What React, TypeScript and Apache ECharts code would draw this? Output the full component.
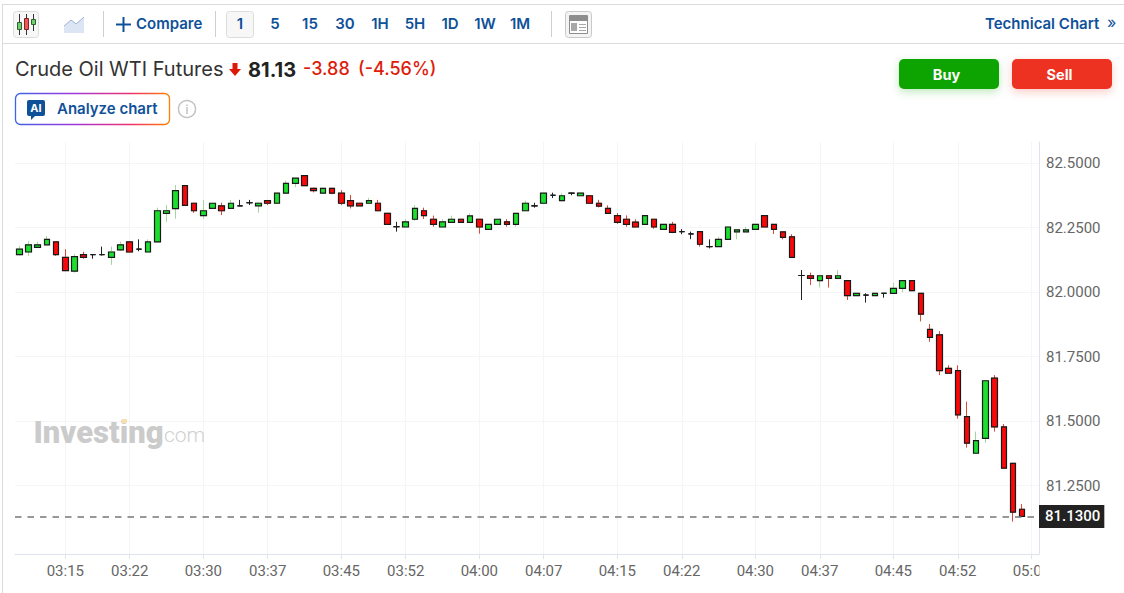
import React, { useEffect, useRef } from "react";
import * as echarts from "echarts";

const times = [
  "03:10","03:11","03:12","03:13","03:14","03:15","03:16","03:17","03:18","03:19",
  "03:20","03:21","03:22","03:23","03:24","03:25","03:26","03:27","03:28","03:29",
  "03:30","03:31","03:32","03:33","03:34","03:35","03:36","03:37","03:38","03:39",
  "03:40","03:41","03:42","03:43","03:44","03:45","03:46","03:47","03:48","03:49",
  "03:50","03:51","03:52","03:53","03:54","03:55","03:56","03:57","03:58","03:59",
  "04:00","04:01","04:02","04:03","04:04","04:05","04:06","04:07","04:08","04:09",
  "04:10","04:11","04:12","04:13","04:14","04:15","04:16","04:17","04:18","04:19",
  "04:20","04:21","04:22","04:23","04:24","04:25","04:26","04:27","04:28","04:29",
  "04:30","04:31","04:32","04:33","04:34","04:35","04:36","04:37","04:38","04:39",
  "04:40","04:41","04:42","04:43","04:44","04:45","04:46","04:47","04:48","04:49",
  "04:50","04:51","04:52","04:53","04:54","04:55","04:56","04:57","04:58","04:59",
];
const opens = [
  82.145,82.155,82.173,82.183,82.194,82.134,82.081,82.145,82.145,82.145,
  82.134,82.163,82.194,82.166,82.155,82.194,82.305,82.323,82.412,82.344,
  82.296,82.324,82.334,82.324,82.334,82.346,82.334,82.354,82.344,82.383,
  82.421,82.451,82.402,82.383,82.402,82.383,82.354,82.344,82.344,82.344,
  82.305,82.253,82.252,82.282,82.315,82.282,82.252,82.270,82.282,82.270,
  82.282,82.243,82.262,82.272,82.262,82.315,82.334,82.344,82.375,82.354,
  82.383,82.373,82.373,82.344,82.324,82.296,82.282,82.271,82.262,82.282,
  82.243,82.262,82.234,82.225,82.234,82.176,82.176,82.204,82.233,82.233,
  82.243,82.296,82.262,82.233,82.214,82.064,82.063,82.044,82.063,82.053,
  82.044,81.986,81.988,81.986,81.995,81.995,82.014,82.044,81.995,81.855,
  81.834,81.704,81.695,81.517,81.375,81.433,81.666,81.477,81.336,81.158,
];
const closes = [
  82.166,82.183,82.183,82.204,82.145,82.083,82.137,82.134,82.145,82.145,
  82.155,82.183,82.155,82.166,82.194,82.315,82.315,82.393,82.336,82.315,
  82.315,82.344,82.315,82.344,82.334,82.346,82.344,82.344,82.383,82.421,
  82.441,82.412,82.393,82.402,82.383,82.344,82.334,82.334,82.354,82.315,
  82.262,82.253,82.272,82.324,82.296,82.262,82.272,82.282,82.270,82.295,
  82.252,82.262,82.282,82.262,82.305,82.344,82.334,82.383,82.375,82.373,
  82.383,82.383,82.344,82.333,82.305,82.270,82.262,82.252,82.296,82.252,
  82.262,82.231,82.234,82.225,82.185,82.176,82.204,82.252,82.241,82.241,
  82.262,82.252,82.243,82.212,82.134,82.064,82.053,82.063,82.053,82.063,
  81.986,81.995,81.988,81.995,81.995,82.014,82.044,82.005,81.914,81.824,
  81.695,81.685,81.524,81.414,81.424,81.656,81.477,81.317,81.147,81.130,
];
const lows = [
  82.141,82.140,82.172,82.183,82.140,82.083,82.075,82.129,82.129,82.141,
  82.105,82.159,82.155,82.158,82.155,82.194,82.272,82.284,82.336,82.307,
  82.284,82.324,82.298,82.324,82.333,82.337,82.307,82.337,82.344,82.383,
  82.406,82.412,82.386,82.383,82.379,82.337,82.324,82.334,82.344,82.315,
  82.262,82.234,82.252,82.275,82.283,82.253,82.252,82.270,82.270,82.270,
  82.226,82.243,82.262,82.253,82.252,82.315,82.327,82.344,82.364,82.354,
  82.375,82.373,82.344,82.328,82.305,82.264,82.253,82.252,82.262,82.245,
  82.243,82.228,82.224,82.205,82.176,82.169,82.176,82.204,82.204,82.233,
  82.243,82.252,82.225,82.204,82.132,81.969,82.027,82.018,82.017,82.053,
  81.969,81.986,81.959,81.986,81.978,81.995,81.999,82.005,81.886,81.807,
  81.678,81.685,81.509,81.397,81.375,81.416,81.459,81.317,81.110,81.130,
];
const highs = [
  82.178,82.197,82.195,82.217,82.194,82.166,82.147,82.156,82.145,82.176,
  82.176,82.195,82.195,82.204,82.204,82.327,82.337,82.415,82.415,82.344,
  82.357,82.344,82.346,82.357,82.357,82.357,82.346,82.357,82.383,82.431,
  82.441,82.451,82.404,82.402,82.402,82.395,82.376,82.344,82.365,82.357,
  82.305,82.272,82.282,82.337,82.327,82.296,82.282,82.296,82.282,82.305,
  82.282,82.262,82.283,82.282,82.305,82.354,82.346,82.383,82.385,82.383,
  82.385,82.385,82.373,82.357,82.336,82.306,82.297,82.282,82.296,82.282,
  82.262,82.272,82.244,82.234,82.234,82.204,82.214,82.252,82.241,82.252,
  82.262,82.296,82.262,82.233,82.224,82.085,82.075,82.063,82.063,82.085,
  82.044,81.995,81.995,81.995,81.995,82.036,82.044,82.044,81.995,81.876,
  81.848,81.716,81.716,81.575,81.459,81.656,81.678,81.488,81.336,81.178,
];
const xTickLabels = ["03:15","03:22","03:30","03:37","03:45","03:52","04:00","04:07","04:15","04:22","04:30","04:37","04:45","04:52","05:00"];
const yTickValues = [81.25, 81.5, 81.75, 82, 82.25, 82.5];
const intervals = ["1","5","15","30","1H","5H","1D","1W","1M"];
const lastPrice = 81.13;

const toMinutes = (t: string) => {
  const [h, m] = t.split(":").map(Number);
  return h * 60 + m;
};
const toLabel = (v: number) => {
  const h = Math.floor(v / 60);
  const m = Math.round(v - h * 60);
  return `${String(h).padStart(2, "0")}:${String(m).padStart(2, "0")}`;
};

const UI = "Inter, 'Noto Sans', sans-serif";
const BLUE = "#0f5199";
const LINE = "#dcdcdc";

const txt = (text: string, x: number, y: number, size: number, weight: any, fill: string, align = "left", z = 10, family = UI) => ({
  type: "text",
  z,
  x,
  y,
  style: { text, fontSize: size, fontWeight: weight, fontFamily: family, fill, align, verticalAlign: "middle" },
});
const rect = (x: number, y: number, w: number, h: number, fill: string, stroke: string | null = null, r = 0, extra: any = {}, z = 5) => ({
  type: "rect",
  z,
  shape: { x, y, width: w, height: h, r },
  style: { fill, stroke: stroke ?? undefined, lineWidth: 1, ...extra },
});
const seg = (x1: number, y1: number, x2: number, y2: number, stroke: string, lineWidth = 1, z = 6) => ({
  type: "line",
  z,
  shape: { x1, y1, x2, y2 },
  style: { stroke, lineWidth },
});

const intervalX = [240, 275, 310, 345, 380, 415, 450, 485, 520];

function chrome(): any[] {
  const els: any[] = [
    // frame
    seg(2.5, 4, 2.5, 593, LINE),
    seg(2, 4.5, 1124, 4.5, LINE),
    seg(2, 43.5, 1124, 43.5, LINE),
    // candlestick button
    rect(13.5, 11.5, 25, 26, "#f7f7f8", LINE, 3),
    seg(19.5, 14, 19.5, 35, "#333", 1, 6),
    rect(17.5, 22.5, 4, 7, "#6fd06f", "#2f5f2f", 0, {}, 7),
    seg(26.5, 14, 26.5, 35, "#333", 1, 6),
    rect(24.5, 18.5, 4, 11, "#f25555", "#7a2a2a", 0, {}, 7),
    seg(33.5, 14, 33.5, 31, "#333", 1, 6),
    rect(31.5, 19.5, 4, 5, "#6fd06f", "#2f5f2f", 0, {}, 7),
    // area icon
    {
      type: "polygon",
      z: 6,
      shape: { points: [[64, 26], [71, 20], [76, 24], [84, 17], [84, 33], [64, 33]] },
      style: { fill: "#dbe5f3" },
    },
    {
      type: "polyline",
      z: 6,
      shape: { points: [[64, 26], [71, 20], [76, 24], [84, 17]] },
      style: { stroke: "#9db4d6", lineWidth: 1, fill: "none" },
    },
    seg(103.5, 11, 103.5, 37, "#d0d0d0"),
    // compare
    seg(116, 24.5, 131, 24.5, BLUE, 2),
    seg(123.5, 17, 123.5, 32, BLUE, 2),
    txt("Compare", 136, 23.5, 15, 600, BLUE),
    seg(215.5, 11, 215.5, 37, "#d0d0d0"),
    rect(226.5, 11.5, 27, 26, "#f7f7f8", LINE, 3),
    seg(551.5, 11, 551.5, 37, "#d0d0d0"),
    // news icon
    rect(565.5, 11.5, 26, 26, "#f4f4f4", "#c9c9c9", 3),
    rect(569.5, 15.5, 18, 18, "#ffffff", "#8d8d8d"),
    rect(570, 16, 17, 5, "#8d8d8d"),
    rect(571, 23, 6, 8, "#a8a8a8"),
    seg(579, 24.5, 586, 24.5, "#a8a8a8"),
    seg(579, 27.5, 586, 27.5, "#a8a8a8"),
    seg(579, 30.5, 586, 30.5, "#a8a8a8"),
    txt("Technical Chart", 985, 23.5, 15, 600, BLUE),
    txt("»", 1107, 22, 16, 400, BLUE),
    // title line
    txt("Crude Oil WTI Futures", 15, 68.5, 20, 400, "#333333"),
    {
      type: "polygon",
      z: 6,
      shape: { points: [[232.5, 63], [237.5, 63], [237.5, 69], [241, 69], [235, 76], [229, 69], [232.5, 69]] },
      style: { fill: "#dc1a0a" },
    },
    txt("81.13", 248, 69.5, 20, 700, "#222222"),
    txt("-3.88", 303, 68.5, 18, 500, "#e01c0c"),
    txt("(-4.56%)", 358, 68.5, 18, 500, "#e01c0c"),
    // analyze button
    {
      type: "rect",
      z: 5,
      shape: { x: 15.5, y: 93.5, width: 154, height: 31, r: 5 },
      style: {
        fill: "#ffffff",
        lineWidth: 1.3,
        stroke: new echarts.graphic.LinearGradient(0, 0, 1, 0, [
          { offset: 0, color: "#3c63e8" },
          { offset: 0.4, color: "#a535d8" },
          { offset: 0.75, color: "#f0306a" },
          { offset: 1, color: "#ff8000" },
        ]),
      },
    },
    rect(27, 100, 18, 16, BLUE, null, 2),
    { type: "polygon", z: 6, shape: { points: [[31, 115], [36, 115], [31, 120]] }, style: { fill: BLUE } },
    txt("AI", 36, 107.5, 11, 700, "#ffffff", "center"),
    txt("Analyze chart", 57, 108.5, 15, 600, BLUE),
    { type: "circle", z: 6, shape: { cx: 187, cy: 109, r: 8.5 }, style: { fill: "#fff", stroke: "#c4c4c4", lineWidth: 1.5 } },
    txt("i", 187, 109.5, 12, 400, "#b0b0b0", "center"),
    // buy & sell
    rect(899, 59, 100, 30, "#0da300", null, 5, { shadowBlur: 8, shadowColor: "rgba(13,163,0,0.25)", shadowOffsetY: 3 }),
    txt("Buy", 946.5, 74.5, 14.5, 700, "#ffffff", "center"),
    rect(1012, 59, 100, 30, "#ee3224", null, 5, { shadowBlur: 8, shadowColor: "rgba(238,50,36,0.25)", shadowOffsetY: 3 }),
    txt("Sell", 1059.5, 74.5, 14.5, 700, "#ffffff", "center"),
    // watermark
    txt("Investing", 33.5, 432.5, 31, 900, "#cbcbcb", "left", 1, "Roboto, sans-serif"),
    txt(".com", 159, 435, 21, 300, "#d0d0d0", "left", 1, "Roboto, sans-serif"),
    rect(122, 419, 5, 4, "#f7dfae", null, 0, {}, 2),
    // the last tick label is cut off at the plot's right edge
    rect(1039.5, 558, 84, 34, "#ffffff", null, 0, {}, 50),
  ];
  intervals.forEach((label, i) => {
    els.push(txt(label, intervalX[i], 23.5, 15, 600, BLUE, "center"));
  });
  return els;
}

export default function App() {
  const ref = useRef<HTMLDivElement>(null);
  useEffect(() => {
    const chart = echarts.init(ref.current!, undefined, { renderer: "svg" });
    const xs = times.map(toMinutes);
    const wickData = xs.map((x, i) => [x, opens[i], closes[i], lows[i], highs[i]]);
    const bodyData = xs.map((x, i) => [
      x,
      opens[i],
      closes[i],
      Math.min(opens[i], closes[i]),
      Math.max(opens[i], closes[i]),
    ]);
    const xMarks = xTickLabels.map(toMinutes);
    chart.setOption({
      animation: false,
      backgroundColor: "#ffffff",
      grid: { left: 15, right: 85, top: 142, bottom: 39 },
      xAxis: {
        type: "value",
        min: 189.53,
        max: 300.83,
        axisLine: { show: true, onZero: false, lineStyle: { color: "#dfe3ee" } },
        axisTick: { show: true, length: 5, customValues: xMarks, lineStyle: { color: "#dfe3ee" } },
        splitLine: { show: true, lineStyle: { color: "#f4f5f9" } },
        axisLabel: {
          customValues: xMarks,
          formatter: (v: number) => toLabel(v),
          color: "#666666",
          fontFamily: "Roboto, sans-serif",
          fontSize: 15,
          margin: 9,
          hideOverlap: false,
        },
      },
      yAxis: {
        type: "value",
        position: "right",
        min: 80.9845,
        max: 82.5814,
        axisLine: { show: true, lineStyle: { color: "#dfe3ee" } },
        axisTick: { show: false, customValues: yTickValues },
        splitLine: { show: true, lineStyle: { color: "#f4f5f9" } },
        axisLabel: {
          customValues: yTickValues,
          formatter: (v: number) => v.toFixed(4),
          color: "#666666",
          fontFamily: "Roboto, sans-serif",
          fontSize: 15,
          margin: 7,
        },
      },
      graphic: chrome(),
      series: [
        {
          type: "candlestick",
          name: "wicks",
          barWidth: 6,
          data: wickData,
          z: 2,
          itemStyle: {
            color: "transparent",
            color0: "transparent",
            borderColor: "#a5d79c",
            borderColor0: "#dc4a36",
            borderColorDoji: "#222222",
            borderWidth: 1,
          },
          markLine: {
            silent: true,
            symbol: "none",
            animation: false,
            lineStyle: { color: "#777777", type: [6.5, 6], width: 1.5 },
            label: {
              position: "end",
              distance: 0,
              formatter: (p: any) => Number(p.value).toFixed(4),
              backgroundColor: "#222222",
              color: "#ffffff",
              fontFamily: "Roboto, sans-serif",
              fontSize: 15,
              fontWeight: 500,
              padding: [4, 4, 4, 6],
            },
            data: [{ yAxis: lastPrice }],
          },
        },
        {
          type: "candlestick",
          name: "bodies",
          barWidth: 6,
          data: bodyData,
          z: 3,
          itemStyle: {
            color: "#1bde2e",
            color0: "#f80808",
            borderColor: "#1a1a1a",
            borderColor0: "#1a1a1a",
            borderColorDoji: "#1a1a1a",
            borderWidth: 1.2,
          },
        },
      ],
    });
    return () => chart.dispose();
  }, []);
  return <div ref={ref} style={{ position: "absolute", left: 0, top: 0, width: 1124, height: 593 }} />;
}
